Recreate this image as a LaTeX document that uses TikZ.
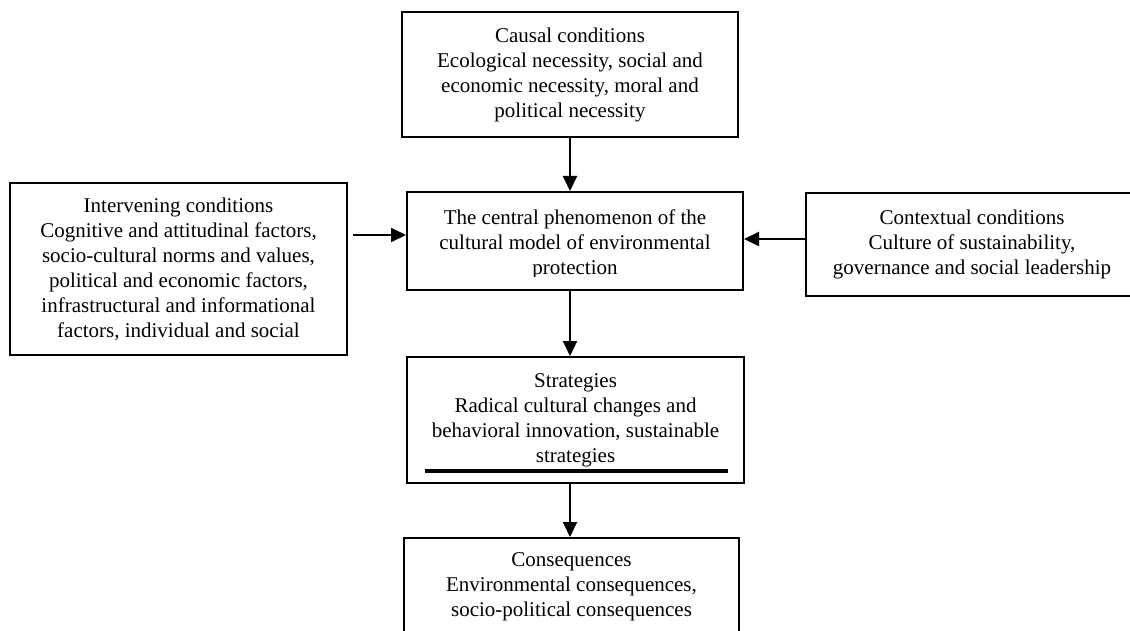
\documentclass[tikz,border=0pt]{standalone}
\usepackage{fontspec}
\setmainfont{Liberation Serif}
\usetikzlibrary{arrows.meta}
\tikzset{
  box/.style={draw=black, line width=2pt, rectangle, align=center, inner sep=0pt,
    font=\fontsize{21}{25}\selectfont},
  txt/.style={align=center, inner sep=0pt, font=\fontsize{21}{25}\selectfont},
  arr/.style={line width=2pt, -{Triangle[length=15pt,width=14pt]}}
}
\begin{document}
\begin{tikzpicture}[x=1pt,y=-1pt]
\useasboundingbox (0,0) rectangle (1130,631);
\clip (0,0) rectangle (1130,631);
\fill[white] (0,0) rectangle (1130,631);
% boxes
\node[box, minimum width=336pt, minimum height=125pt] (causal) at (570,74.5)
  {Causal conditions\\Ecological necessity, social and\\economic necessity, moral and\\political necessity};
\node[box, minimum width=336pt, minimum height=98pt] (central) at (575,241) {};
\begin{scope}
  \clip (407,192) rectangle (743,276.5);
  \node[txt] (centraltext) at (575,244)
    {The central phenomenon of the\\cultural model of environmental\\protection};
\end{scope}
\node[box, minimum width=337pt, minimum height=172pt] (interv) at (178.5,269)
  {Intervening conditions\\Cognitive and attitudinal factors,\\socio-cultural norms and values,\\political and economic factors,\\infrastructural and informational\\factors, individual and social};
\node[box, minimum width=332pt, minimum height=103pt] (context) at (972,244.5)
  {Contextual conditions\\Culture of sustainability,\\governance and social leadership};
\node[box, minimum width=337pt, minimum height=126pt] (strat) at (575.5,420)
  {Strategies\\Radical cultural changes and\\behavioral innovation, sustainable\\strategies};
\coordinate (ula) at (425,471);
\coordinate (ulb) at (728,471);
\draw[line width=4pt] (ula) -- (ulb);
\node[box, minimum width=335pt, minimum height=98pt] (conseq) at (571.5,587)
  {Consequences\\Environmental consequences,\\socio-political consequences};
% connectors
\coordinate (ly) at (0,235);
\coordinate (ry) at (0,239);
\coordinate (vx) at (570,0);
\draw[arr] (causal.south -| vx) -- (central.north -| vx);
\draw[arr] (central.south -| vx) -- (strat.north -| vx);
\draw[arr] (strat.south -| vx) -- (conseq.north -| vx);
\draw[arr] ([xshift=5pt]interv.east |- ly) -- (central.west |- ly);
\draw[arr] (context.west |- ry) -- (central.east |- ry);
\end{tikzpicture}
\end{document}
